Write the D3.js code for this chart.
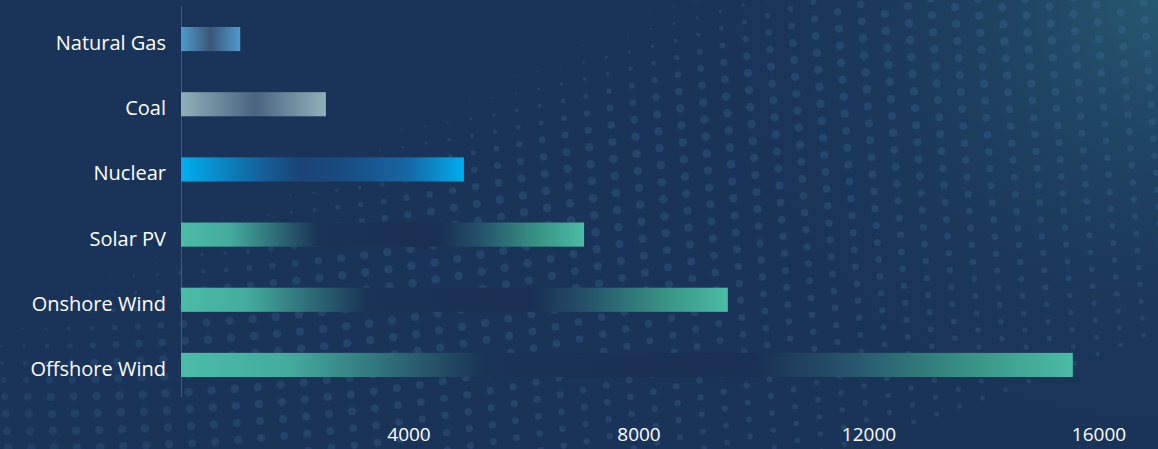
<!DOCTYPE html>
<html>
<head>
<meta charset="utf-8">
<script src="https://cdn.jsdelivr.net/npm/d3@7"></script>
<style>
  html, body { margin: 0; padding: 0; background: #1a3459; }
  svg { display: block; }
</style>
</head>
<body>
<div id="chart"></div>
<script>
// Daten: Kategorien von oben nach unten
const categories = ["Natural Gas", "Coal", "Nuclear", "Solar PV", "Onshore Wind", "Offshore Wind"];
const values = [1030, 2520, 4920, 7010, 9510, 15510];
const tickValues = [4000, 8000, 12000, 16000];

const width = 1158;
const height = 449;

// Farbverlauf pro Balken: Enden farbig, Mitte dunkel
const teal = [
  [0, "#4bbca6"], [0.12, "#44ac9d"], [0.34, "#1a3356"], [0.64, "#192f53"],
  [0.74, "#25506a"], [0.88, "#389183"], [1, "#4bbca6"]
];
const gradients = {
  "Natural Gas": [[0, "#4e9acb"], [0.5, "#3a5778"], [1, "#4f9bcc"]],
  "Coal": [[0, "#8fb0b9"], [0.51, "#4a6381"], [1, "#90b1ba"]],
  "Nuclear": [[0, "#00aeef"], [0.28, "#14619c"], [0.42, "#1a4477"], [0.56, "#194a80"],
              [0.8, "#1566a2"], [1, "#00aeef"]],
  "Solar PV": teal,
  "Onshore Wind": teal,
  "Offshore Wind": teal
};

const svg = d3.select("#chart").append("svg")
  .attr("width", width)
  .attr("height", height);

const defs = svg.append("defs");

// Hintergrund
const glow = defs.append("radialGradient")
  .attr("id", "glow")
  .attr("cx", 1158).attr("cy", 0).attr("r", 460)
  .attr("gradientUnits", "userSpaceOnUse");
glow.append("stop").attr("offset", 0).attr("stop-color", "#2a6478").attr("stop-opacity", 0.75);
glow.append("stop").attr("offset", 0.5).attr("stop-color", "#23506c").attr("stop-opacity", 0.3);
glow.append("stop").attr("offset", 1).attr("stop-color", "#1a3459").attr("stop-opacity", 0);

svg.append("rect").attr("width", width).attr("height", height).attr("fill", "#1a3459");
svg.append("rect").attr("width", width).attr("height", height).attr("fill", "url(#glow)");

// Punktraster (Dekoration)
const dots = [];
for (let i = -4; i < 58; i++) {
  for (let j = -4; j < 34; j++) {
    const bx = i * 23;
    const px = bx + j * 1.2;
    const py = j * 17 - bx * 0.22 * (bx / width) + 6;
    if (px < -10 || px > width + 10 || py < -10 || py > height + 10) continue;
    const s = px / 720 + py / 340;
    const t = Math.max(0, Math.min(1, (s - 0.82) / 0.5));
    const grow = t * t * (3 - 2 * t);
    const fade = 1 - 0.5 * Math.max(0, Math.min(1, (s - 1.5) / 1.2));
    const r = 4.3 * grow * fade;
    const op = 0.22 * (px < 350 ? 0.7 + 0.3 * px / 350 : 1);
    if (r > 0.6) dots.push({ x: px, y: py, r, op });
  }
}
svg.append("g")
  .selectAll("circle")
  .data(dots)
  .join("circle")
  .attr("cx", d => d.x)
  .attr("cy", d => d.y)
  .attr("r", d => d.r)
  .attr("fill", "#4a7fb0")
  .attr("fill-opacity", d => d.op);

// Skalen
const x = d3.scaleLinear().domain([0, 16000]).range([181, 1101]);
const y = d3.scaleBand().domain(categories).range([27, 377]).paddingInner(0.63);

// Verläufe anlegen
categories.forEach((c, i) => {
  const g = defs.append("linearGradient")
    .attr("id", "grad" + i)
    .attr("x1", "0%").attr("x2", "100%").attr("y1", "0%").attr("y2", "0%");
  gradients[c].forEach(([o, col]) => {
    g.append("stop").attr("offset", o).attr("stop-color", col);
  });
});

// Achsenlinie
svg.append("line")
  .attr("x1", x(0) + 0.5).attr("x2", x(0) + 0.5)
  .attr("y1", 6).attr("y2", 397)
  .attr("stroke", "#41597a")
  .attr("stroke-width", 1);

// Balken
svg.append("g")
  .selectAll("rect")
  .data(categories)
  .join("rect")
  .attr("x", x(0))
  .attr("y", d => y(d))
  .attr("width", (d, i) => x(values[i]) - x(0))
  .attr("height", y.bandwidth())
  .attr("fill", (d, i) => `url(#grad${i})`);

// Y-Beschriftung
svg.append("g")
  .selectAll("text")
  .data(categories)
  .join("text")
  .attr("x", 166)
  .attr("y", d => y(d) + y.bandwidth() / 2 + 11)
  .attr("text-anchor", "end")
  .attr("fill", "#ffffff")
  .style("font-family", "'Open Sans', sans-serif")
  .style("font-size", "20px")
  .text(d => d);

// X-Achse (nur Beschriftung)
const xAxis = d3.axisBottom(x)
  .tickValues(tickValues)
  .tickSize(0)
  .tickPadding(0)
  .tickFormat(d3.format("d"));

const ax = svg.append("g")
  .attr("transform", "translate(-2.5, 441)")
  .call(xAxis);
ax.select(".domain").remove();
ax.selectAll("text")
  .attr("dy", 0)
  .attr("y", 0)
  .attr("fill", "#ffffff")
  .style("font-family", "'Open Sans', sans-serif")
  .style("font-size", "19px");
</script>
</body>
</html>
